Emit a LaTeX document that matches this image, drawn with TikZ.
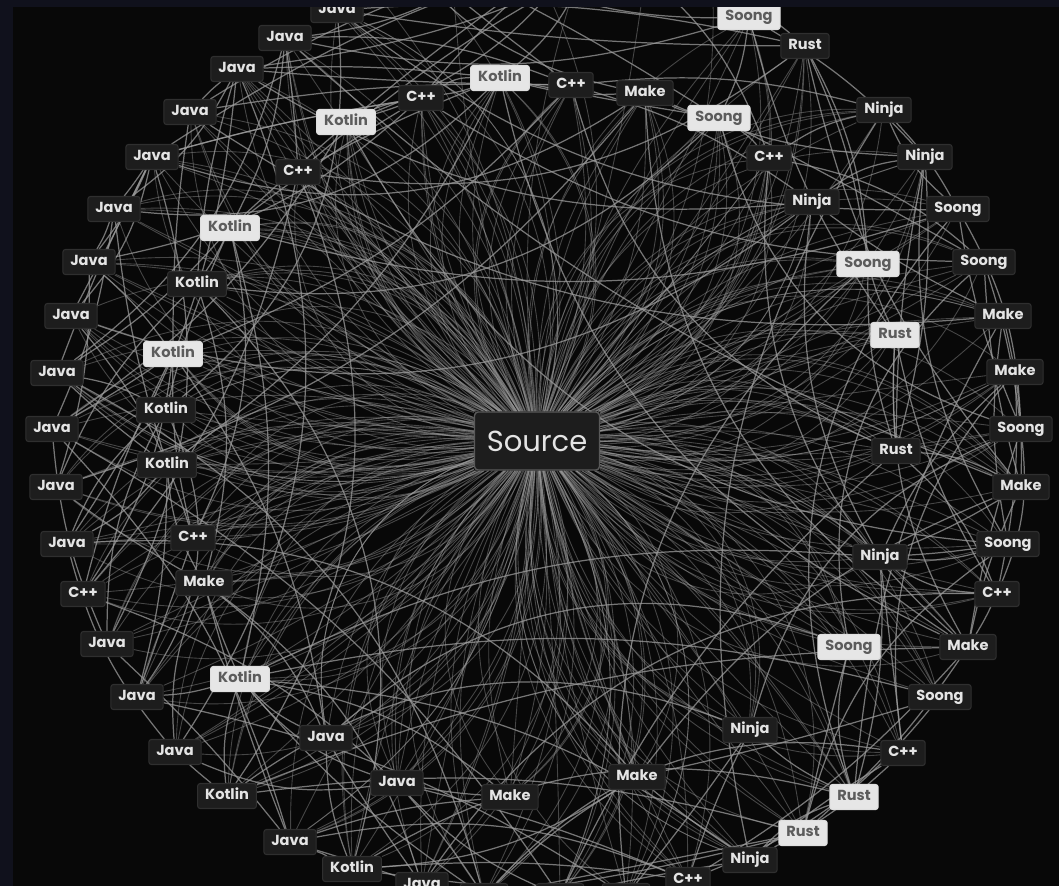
\documentclass[tikz,border=0pt]{standalone}
\usepackage{fontspec}
\setmainfont{Poppins}
\definecolor{frame}{HTML}{10111C}
\definecolor{canvas}{HTML}{080808}
\definecolor{wire}{HTML}{9C9C9C}
\definecolor{boxdark}{HTML}{1D1D1D}
\definecolor{boxline}{HTML}{2F2F2F}
\definecolor{boxlight}{HTML}{E6E6E6}
\definecolor{inklight}{HTML}{E4E4E4}
\definecolor{inkdark}{HTML}{5C5C5C}
\pgfdeclarelayer{back}
\pgfdeclarelayer{wires}
\pgfsetlayers{back,wires,main}

\begin{document}
\begin{tikzpicture}[x=0.02cm, y=-0.02cm,
    box/.style={rectangle, rounded corners=1.5pt, inner xsep=0.15cm, inner ysep=0pt,
      minimum height=0.5cm, text height=6pt, text depth=1.5pt,
      font=\fontsize{8.3}{9}\selectfont\bfseries, line width=0.6pt},
    darkbox/.style={box, fill=boxdark, draw=boxline, text=inklight},
    lightbox/.style={box, fill=boxlight, draw=white!75!gray, text=inkdark},
    cutbox/.style={box, fill=boxdark, draw=boxline, minimum width=0.95cm},
    hub/.style={rectangle, rounded corners=2pt, fill=boxdark, draw=boxline!80!white,
      line width=0.8pt, minimum width=2.5cm, minimum height=1.16cm, text=inklight,
      font=\fontsize{16.5}{18}\selectfont},
    ray/.style={draw=wire, line width=0.5pt, opacity=0.42},
    link/.style={draw=wire, line width=0.7pt, opacity=0.75}]
  \useasboundingbox (0,0) rectangle (1059,886);
  \begin{pgfonlayer}{back}
    \fill[frame] (0,0) rectangle (1059,886);
    \fill[canvas] (13,7) rectangle (1059,886);
  \end{pgfonlayer}

  \begin{scope}
    \clip (13,7) rectangle (1059,886);
    \foreach \x/\y/\t/\s [count=\k] in {
        571/85/C++/darkbox, 645/93/Make/darkbox, 749/17/Soong/lightbox,
        719/118/Soong/lightbox, 805/46/Rust/darkbox, 769/158/C++/darkbox,
        884/110/Ninja/darkbox, 812/202/Ninja/darkbox, 925/157/Ninja/darkbox,
        958/209/Soong/darkbox, 868/264/Soong/lightbox, 984/262/Soong/darkbox,
        895/335/Rust/lightbox, 1003/316/Make/darkbox, 1015/372/Make/darkbox,
        1021/429/Soong/darkbox, 896/451/Rust/darkbox, 1021/487/Make/darkbox,
        1008/544/Soong/darkbox, 997/594/C++/darkbox, 880/557/Ninja/darkbox,
        968/647/Make/darkbox, 940/697/Soong/darkbox, 849/647/Soong/lightbox,
        903/753/C++/darkbox, 854/797/Rust/lightbox, 750/730/Ninja/darkbox,
        803/833/Rust/lightbox, 750/860/Ninja/darkbox, 688/880/C++/darkbox,
        637/777/Make/darkbox, 626/896//cutbox, 560/896//cutbox,
        510/797/Make/darkbox, 484/896//cutbox, 422/885/Java/darkbox,
        397/783/Java/darkbox, 352/869/Kotlin/darkbox, 290/842/Java/darkbox,
        326/738/Java/darkbox, 227/796/Kotlin/darkbox, 175/752/Java/darkbox,
        240/679/Kotlin/lightbox, 137/697/Java/darkbox, 107/644/Java/darkbox,
        204/583/Make/darkbox, 83/594/C++/darkbox, 193/538/C++/darkbox,
        67/544/Java/darkbox, 56/487/Java/darkbox, 167/465/Kotlin/darkbox,
        52/429/Java/darkbox, 166/410/Kotlin/darkbox, 57/373/Java/darkbox,
        173/354/Kotlin/lightbox, 71/316/Java/darkbox, 89/262/Java/darkbox,
        197/284/Kotlin/darkbox, 114/209/Java/darkbox, 230/228/Kotlin/lightbox,
        152/157/Java/darkbox, 190/112/Java/darkbox, 298/172/C++/darkbox,
        237/69/Java/darkbox, 285/38/Java/darkbox, 346/122/Kotlin/lightbox,
        337/10/Java/darkbox, 421/98/C++/darkbox, 500/78/Kotlin/lightbox}
      \path (\x,\y) node (n\k) [\s] {\t};
  \end{scope}
  \path (537,441) node (src) [hub] {Source};
  \foreach \x [count=\m] in {330,390,450,520,590,650,710}
    \coordinate (u\m) at (\x,-60);

  \begin{pgfonlayer}{wires}
    \begin{scope}
      \clip (13,7) rectangle (1059,886);
      \pgfmathsetseed{11}
      \foreach \k in {1,...,69}{
        \foreach \r in {1,...,7}{
          \pgfmathrandominteger{\bnd}{-45}{45}
          \draw[ray] (src) to[bend left=\bnd] (n\k);
        }
        \foreach \r in {1,2}{
          \pgfmathrandominteger{\off}{1}{8}
          \pgfmathtruncatemacro{\j}{mod(\k+\off-1,69)+1}
          \pgfmathrandominteger{\bnd}{-15}{15}
          \draw[link] (n\k) to[bend left=\bnd] (n\j);
        }
        \pgfmathrandominteger{\off}{9}{22}
        \pgfmathtruncatemacro{\j}{mod(\k+\off-1,69)+1}
        \pgfmathrandominteger{\bnd}{10}{30}
        \draw[link] (n\k) to[bend right=\bnd] (n\j);
      }
      \foreach \k in {60,61,62,63,64,65,66,67,68,69,1,2,3,4,5,6}{
        \pgfmathrandominteger{\m}{1}{7}
        \pgfmathrandominteger{\bnd}{-20}{20}
        \draw[link] (n\k) to[bend left=\bnd] (u\m);
      }
      \foreach \m in {1,...,7}{
        \pgfmathrandominteger{\bnd}{-30}{30}
        \draw[ray] (src) to[bend left=\bnd] (u\m);
      }
    \end{scope}
  \end{pgfonlayer}
\end{tikzpicture}
\end{document}
